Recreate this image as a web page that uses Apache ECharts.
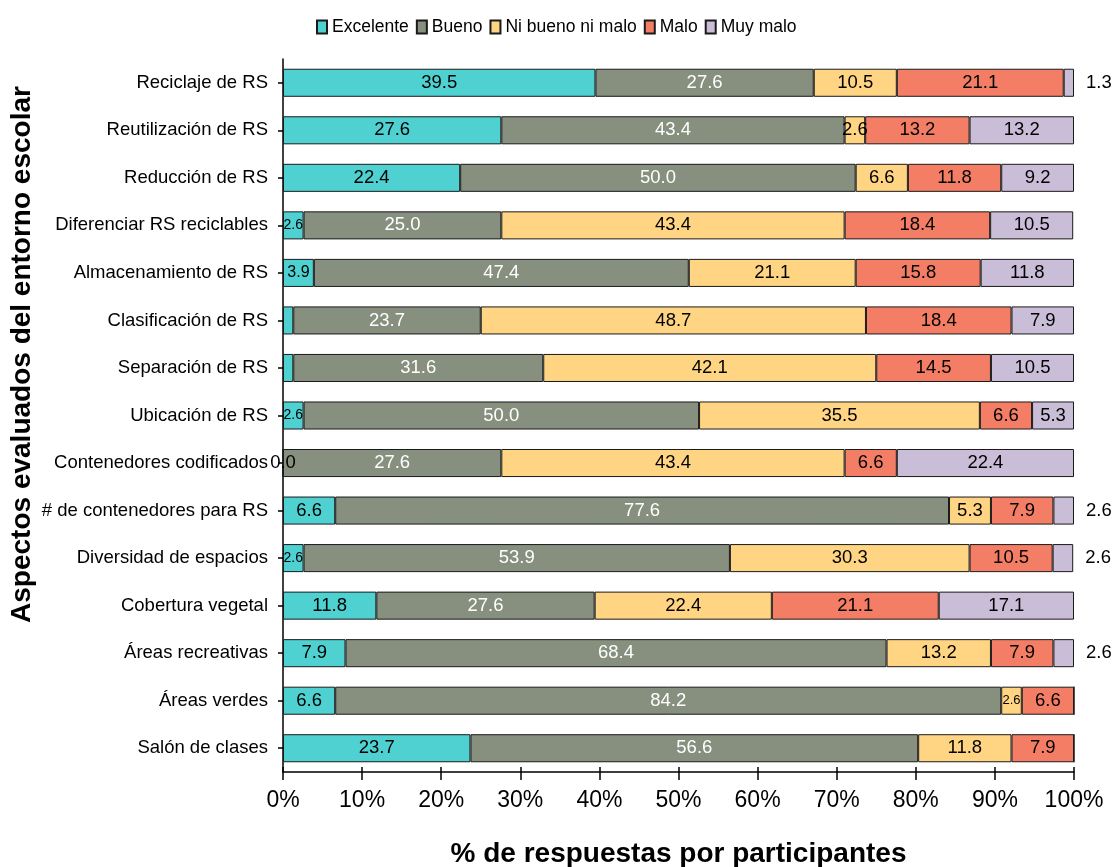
<!DOCTYPE html>
<html>
<head>
<meta charset="utf-8">
<script src="https://cdn.jsdelivr.net/npm/echarts@6/dist/echarts.min.js"></script>
<style>
  html, body { margin: 0; padding: 0; background: #fff; }
  #chart { width: 1115px; height: 867px; }
</style>
</head>
<body>
<div id="chart"></div>
<script>
// Aspects of the school environment, top to bottom
const categories = [
  'Reciclaje de RS',
  'Reutilización de RS',
  'Reducción de RS',
  'Diferenciar RS reciclables',
  'Almacenamiento de RS',
  'Clasificación de RS',
  'Separación de RS',
  'Ubicación de RS',
  'Contenedores codificados',
  '# de contenedores para RS',
  'Diversidad de espacios',
  'Cobertura vegetal',
  'Áreas recreativas',
  'Áreas verdes',
  'Salón de clases'
];

// % of answers per rating
const excelente   = [39.5, 27.6, 22.4, 2.6, 3.9, 1.3, 1.3, 2.6, 0.0, 6.6, 2.6, 11.8, 7.9, 6.6, 23.7];
const bueno       = [27.6, 43.4, 50.0, 25.0, 47.4, 23.7, 31.6, 50.0, 27.6, 77.6, 53.9, 27.6, 68.4, 84.2, 56.6];
const niBuenoMalo = [10.5, 2.6, 6.6, 43.4, 21.1, 48.7, 42.1, 35.5, 43.4, 5.3, 30.3, 22.4, 13.2, 2.6, 11.8];
const malo        = [21.1, 13.2, 11.8, 18.4, 15.8, 18.4, 14.5, 6.6, 6.6, 7.9, 10.5, 21.1, 7.9, 6.6, 7.9];
const muyMalo     = [1.3, 13.2, 9.2, 10.5, 11.8, 7.9, 10.5, 5.3, 22.4, 2.6, 2.6, 17.1, 2.6, 0, 0];

const xTicks = [0, 10, 20, 30, 40, 50, 60, 70, 80, 90, 100];

const FONT = '"Liberation Sans", Arial, Helvetica, sans-serif';

const seriesDefs = [
  { name: 'Excelente',        values: excelente,   color: '#4fd1d2', text: '#000' },
  { name: 'Bueno',            values: bueno,       color: '#878f7f', text: '#fff' },
  { name: 'Ni bueno ni malo', values: niBuenoMalo, color: '#ffd583', text: '#000' },
  { name: 'Malo',             values: malo,        color: '#f47e65', text: '#000' },
  { name: 'Muy malo',         values: muyMalo,     color: '#c9bdd8', text: '#000' }
];

// narrow segments get a smaller label
const smallLabel = {
  'Diferenciar RS reciclables|Excelente': 14,
  'Almacenamiento de RS|Excelente': 16,
  'Ubicación de RS|Excelente': 14,
  'Diversidad de espacios|Excelente': 14,
  'Áreas verdes|Ni bueno ni malo': 13
};

function buildData(def) {
  return def.values.map((v, i) => {
    const key = categories[i] + '|' + def.name;
    const item = { value: v };
    if (def.name === 'Muy malo') {
      if (v === 0) item.label = { show: false };
      else if (v < 3) item.label = { position: 'right', distance: 12, color: '#000' };
    } else if (v > 0 && v < 2) {
      item.label = { show: false };
    }
    if (smallLabel[key]) {
      item.label = Object.assign(item.label || {}, { fontSize: smallLabel[key] });
    }
    return item;
  });
}

const series = seriesDefs.map(def => ({
  name: def.name,
  type: 'bar',
  stack: 'total',
  barCategoryGap: '41%',
  xAxisIndex: 0,
  yAxisIndex: 0,
  itemStyle: { color: def.color, borderColor: '#1a1a1a', borderWidth: 1 },
  label: {
    show: true,
    position: 'inside',
    color: def.text,
    fontFamily: FONT,
    fontSize: 18.5,
    formatter: p => Number(p.value).toFixed(1)
  },
  emphasis: { disabled: true },
  data: buildData(def)
}));

const chart = echarts.init(document.getElementById('chart'), null, { renderer: 'canvas' });

chart.setOption({
  animation: false,
  textStyle: { fontFamily: FONT },
  legend: {
    data: seriesDefs.map(d => d.name),
    left: 311,
    top: 13,
    itemWidth: 10,
    itemHeight: 13,
    itemGap: 7,
    icon: 'rect',
    textStyle: { fontFamily: FONT, fontSize: 17.5, color: '#000' }
  },
  grid: { left: 283, right: 41, top: 59, bottom: 95, containLabel: false, outerBoundsMode: 'none' },
  xAxis: [
    {
      type: 'value',
      min: xTicks[0],
      max: xTicks[xTicks.length - 1],
      interval: xTicks[1] - xTicks[0],
      name: '% de respuestas por participantes',
      nameLocation: 'middle',
      nameGap: 68,
      nameMoveOverlap: false,
      nameTextStyle: { fontFamily: FONT, fontSize: 28, fontWeight: 'bold', color: '#000' },
      axisLine: { show: true, lineStyle: { color: '#000', width: 1.5 } },
      axisTick: { show: true, inside: false, length: 8, lineStyle: { color: '#000', width: 1.5 } },
      axisLabel: { formatter: '{value}%', fontFamily: FONT, fontSize: 23, color: '#000', margin: 17 },
      splitLine: { show: false }
    },
    {
      type: 'value',
      min: xTicks[0],
      max: xTicks[xTicks.length - 1],
      interval: xTicks[1] - xTicks[0],
      position: 'bottom',
      axisLine: { show: false },
      axisTick: { show: true, inside: true, length: 5, lineStyle: { color: '#000', width: 1.5 } },
      axisLabel: { show: false },
      splitLine: { show: false }
    }
  ],
  yAxis: [
    {
      type: 'category',
      data: categories,
      inverse: true,
      name: 'Aspectos evaluados del entorno escolar',
      nameLocation: 'middle',
      nameGap: 247,
      nameMoveOverlap: false,
      nameTextStyle: { fontFamily: FONT, fontSize: 28, fontWeight: 'bold', color: '#000', padding: [0, 0, 0, 122] },
      axisLine: { show: true, lineStyle: { color: '#000', width: 1.5 } },
      axisTick: { show: true, alignWithLabel: true, inside: false, length: 5, lineStyle: { color: '#000', width: 1.5 } },
      axisLabel: { fontFamily: FONT, fontSize: 18.5, color: '#000', margin: 15 },
      splitLine: { show: false }
    },
    {
      type: 'category',
      data: categories,
      inverse: true,
      position: 'left',
      axisLine: { show: false },
      axisTick: { show: true, alignWithLabel: true, inside: true, length: 5, lineStyle: { color: '#000', width: 1.5 } },
      axisLabel: { show: false },
      splitLine: { show: false }
    }
  ],
  series: series
});
</script>
</body>
</html>
